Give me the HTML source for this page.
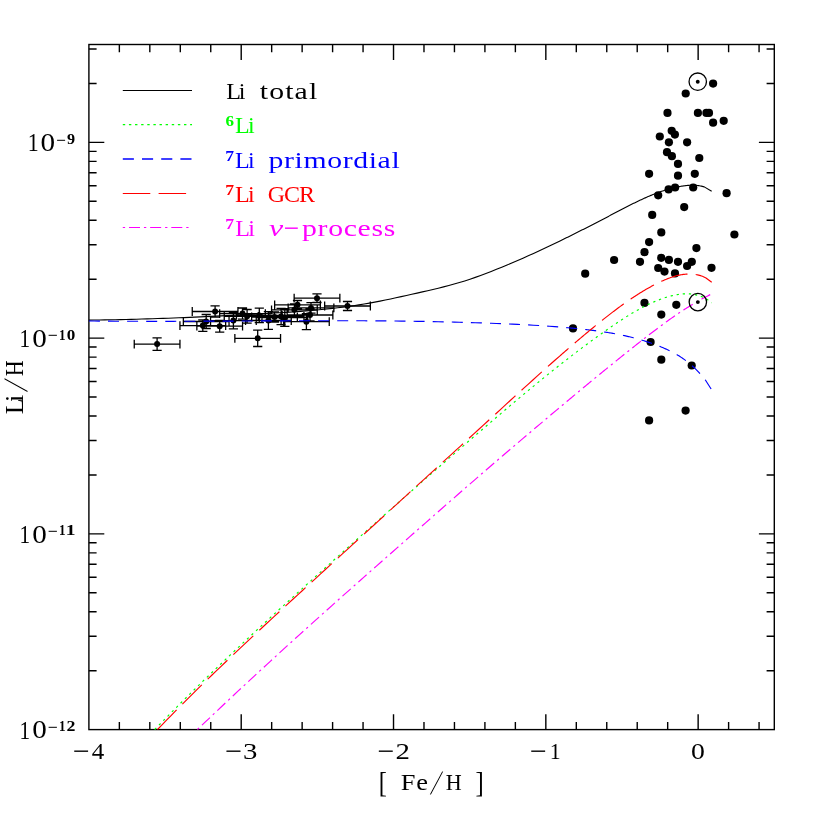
<!DOCTYPE html>
<html><head><meta charset="utf-8"><title>Li/H vs [Fe/H]</title>
<style>
html,body{margin:0;padding:0;background:#fff;}
svg{display:block;will-change:transform;}
text{font-family:"Liberation Serif",serif;}
</style></head>
<body>
<svg width="817" height="817" viewBox="0 0 817 817">
<rect width="817" height="817" fill="#fff"/>
<g stroke="#000" stroke-width="1.4" fill="none" stroke-linecap="butt">
<rect x="88.9" y="44.5" width="685.4" height="685.1"/>
<path d="M119.36 729.6v-7.7M119.36 44.5v7.7M149.82 729.6v-7.7M149.82 44.5v7.7M180.29 729.6v-7.7M180.29 44.5v7.7M210.75 729.6v-7.7M210.75 44.5v7.7M241.21 729.6v-15.4M241.21 44.5v15.4M271.67 729.6v-7.7M271.67 44.5v7.7M302.14 729.6v-7.7M302.14 44.5v7.7M332.6 729.6v-7.7M332.6 44.5v7.7M363.06 729.6v-7.7M363.06 44.5v7.7M393.52 729.6v-15.4M393.52 44.5v15.4M423.98 729.6v-7.7M423.98 44.5v7.7M454.45 729.6v-7.7M454.45 44.5v7.7M484.91 729.6v-7.7M484.91 44.5v7.7M515.37 729.6v-7.7M515.37 44.5v7.7M545.83 729.6v-15.4M545.83 44.5v15.4M576.3 729.6v-7.7M576.3 44.5v7.7M606.76 729.6v-7.7M606.76 44.5v7.7M637.22 729.6v-7.7M637.22 44.5v7.7M667.68 729.6v-7.7M667.68 44.5v7.7M698.14 729.6v-15.4M698.14 44.5v15.4M728.61 729.6v-7.7M728.61 44.5v7.7M759.07 729.6v-7.7M759.07 44.5v7.7M88.9 670.68h7.7M774.3 670.68h-7.7M88.9 636.21h7.7M774.3 636.21h-7.7M88.9 611.75h7.7M774.3 611.75h-7.7M88.9 592.78h7.7M774.3 592.78h-7.7M88.9 577.28h7.7M774.3 577.28h-7.7M88.9 564.18h7.7M774.3 564.18h-7.7M88.9 552.83h7.7M774.3 552.83h-7.7M88.9 542.81h7.7M774.3 542.81h-7.7M88.9 533.86h15.4M774.3 533.86h-15.4M88.9 474.93h7.7M774.3 474.93h-7.7M88.9 440.46h7.7M774.3 440.46h-7.7M88.9 416.01h7.7M774.3 416.01h-7.7M88.9 397.04h7.7M774.3 397.04h-7.7M88.9 381.54h7.7M774.3 381.54h-7.7M88.9 368.44h7.7M774.3 368.44h-7.7M88.9 357.08h7.7M774.3 357.08h-7.7M88.9 347.07h7.7M774.3 347.07h-7.7M88.9 338.11h15.4M774.3 338.11h-15.4M88.9 279.19h7.7M774.3 279.19h-7.7M88.9 244.72h7.7M774.3 244.72h-7.7M88.9 220.27h7.7M774.3 220.27h-7.7M88.9 201.3h7.7M774.3 201.3h-7.7M88.9 185.8h7.7M774.3 185.8h-7.7M88.9 172.69h7.7M774.3 172.69h-7.7M88.9 161.34h7.7M774.3 161.34h-7.7M88.9 151.33h7.7M774.3 151.33h-7.7M88.9 142.37h15.4M774.3 142.37h-15.4M88.9 83.45h7.7M774.3 83.45h-7.7M88.9 48.98h7.7M774.3 48.98h-7.7"/>
</g>
<path d="M134.25 344.1h45.7M134.25 339.7v8.8M179.95 339.7v8.8M157.1 337.8v12.6M152.5 337.8h9.2M152.5 350.4h9.2M192.25 311.5h45.7M192.25 307.1v8.8M237.95 307.1v8.8M215.1 305.8v11.4M210.5 305.8h9.2M210.5 317.2h9.2M183.35 321.5h45.7M183.35 317.1v8.8M229.05 317.1v8.8M206.2 314.5v14M201.6 314.5h9.2M201.6 328.5h9.2M179.95 325.6h45.7M179.95 321.2v8.8M225.65 321.2v8.8M202.8 319.8v11.6M198.2 319.8h9.2M198.2 331.4h9.2M196.85 326.2h45.7M196.85 321.8v8.8M242.55 321.8v8.8M219.7 320.3v11.8M215.1 320.3h9.2M215.1 332.1h9.2M210.55 320.6h45.7M210.55 316.2v8.8M256.25 316.2v8.8M233.4 312.3v16.6M228.8 312.3h9.2M228.8 328.9h9.2M219.65 313.6h45.7M219.65 309.2v8.8M265.35 309.2v8.8M242.5 308v11.2M237.9 308h9.2M237.9 319.2h9.2M224.25 316.3h45.7M224.25 311.9v8.8M269.95 311.9v8.8M247.1 309.5v13.6M242.5 309.5h9.2M242.5 323.1h9.2M236.45 315.4h45.7M236.45 311v8.8M282.15 311v8.8M259.3 308.2v14.4M254.7 308.2h9.2M254.7 322.6h9.2M234.85 338.3h45.7M234.85 333.9v8.8M280.55 333.9v8.8M257.7 330.1v16.4M253.1 330.1h9.2M253.1 346.5h9.2M245.55 320.5h45.7M245.55 316.1v8.8M291.25 316.1v8.8M268.4 311.6v17.8M263.8 311.6h9.2M263.8 329.4h9.2M251.65 317h45.7M251.65 312.6v8.8M297.35 312.6v8.8M274.5 312v10M269.9 312h9.2M269.9 322h9.2M258.25 316.5h45.7M258.25 312.1v8.8M303.95 312.1v8.8M281.1 308.3v16.4M276.5 308.3h9.2M276.5 324.7h9.2M261.95 317.5h45.7M261.95 313.1v8.8M307.65 313.1v8.8M284.8 308.6v17.8M280.2 308.6h9.2M280.2 326.4h9.2M271.55 309.8h45.7M271.55 305.4v8.8M317.25 305.4v8.8M294.4 303.8v12M289.8 303.8h9.2M289.8 315.8h9.2M274.65 304.8h45.7M274.65 300.4v8.8M320.35 300.4v8.8M297.5 300.5v8.6M292.9 300.5h9.2M292.9 309.1h9.2M294.15 298.2h45.7M294.15 293.8v8.8M339.85 293.8v8.8M317 293.9v8.6M312.4 293.9h9.2M312.4 302.5h9.2M288.15 307.9h45.7M288.15 303.5v8.8M333.85 303.5v8.8M311 302.6v10.6M306.4 302.6h9.2M306.4 313.2h9.2M287.15 315h45.7M287.15 310.6v8.8M332.85 310.6v8.8M310 309v12M305.4 309h9.2M305.4 321h9.2M283.55 321.7h45.7M283.55 317.3v8.8M329.25 317.3v8.8M306.4 313.7v16M301.8 313.7h9.2M301.8 329.7h9.2M324.65 306h45.7M324.65 301.6v8.8M370.35 301.6v8.8M347.5 301.5v9M342.9 301.5h9.2M342.9 310.5h9.2" stroke="#000" stroke-width="1.3" fill="none"/>
<g fill="#000">
<circle cx="157.1" cy="344.1" r="3"/>
<circle cx="215.1" cy="311.5" r="3"/>
<circle cx="206.2" cy="321.5" r="3"/>
<circle cx="202.8" cy="325.6" r="3"/>
<circle cx="219.7" cy="326.2" r="3"/>
<circle cx="233.4" cy="320.6" r="3"/>
<circle cx="242.5" cy="313.6" r="3"/>
<circle cx="247.1" cy="316.3" r="3"/>
<circle cx="259.3" cy="315.4" r="3"/>
<circle cx="257.7" cy="338.3" r="3"/>
<circle cx="268.4" cy="320.5" r="3"/>
<circle cx="274.5" cy="317" r="3"/>
<circle cx="281.1" cy="316.5" r="3"/>
<circle cx="284.8" cy="317.5" r="3"/>
<circle cx="294.4" cy="309.8" r="3"/>
<circle cx="297.5" cy="304.8" r="3"/>
<circle cx="317" cy="298.2" r="3"/>
<circle cx="311" cy="307.9" r="3"/>
<circle cx="310" cy="315" r="3"/>
<circle cx="306.4" cy="321.7" r="3"/>
<circle cx="347.5" cy="306" r="3"/>
</g>
<g fill="#000">
<circle cx="713.1" cy="83.6" r="4.1"/>
<circle cx="685.7" cy="93.5" r="4.1"/>
<circle cx="667.5" cy="112.9" r="4.1"/>
<circle cx="697.9" cy="112.9" r="4.1"/>
<circle cx="706.4" cy="112.9" r="4.1"/>
<circle cx="709" cy="112.9" r="4.1"/>
<circle cx="713.1" cy="122.7" r="4.1"/>
<circle cx="723.7" cy="120.8" r="4.1"/>
<circle cx="671.7" cy="130.8" r="4.1"/>
<circle cx="674.9" cy="134.6" r="4.1"/>
<circle cx="659.8" cy="136.5" r="4.1"/>
<circle cx="668.9" cy="142.3" r="4.1"/>
<circle cx="687.1" cy="142.3" r="4.1"/>
<circle cx="667" cy="152.2" r="4.1"/>
<circle cx="671.9" cy="156.2" r="4.1"/>
<circle cx="699.3" cy="158" r="4.1"/>
<circle cx="678" cy="163.9" r="4.1"/>
<circle cx="649.1" cy="173.8" r="4.1"/>
<circle cx="678" cy="175.7" r="4.1"/>
<circle cx="694.8" cy="173.8" r="4.1"/>
<circle cx="658.2" cy="195.3" r="4.1"/>
<circle cx="668.6" cy="189.4" r="4.1"/>
<circle cx="675.1" cy="187.5" r="4.1"/>
<circle cx="693.2" cy="187.5" r="4.1"/>
<circle cx="726.6" cy="193.2" r="4.1"/>
<circle cx="684.2" cy="207.1" r="4.1"/>
<circle cx="652.2" cy="214.9" r="4.1"/>
<circle cx="661.3" cy="232.4" r="4.1"/>
<circle cx="734.4" cy="234.5" r="4.1"/>
<circle cx="649.1" cy="242.1" r="4.1"/>
<circle cx="696.4" cy="248.1" r="4.1"/>
<circle cx="644.5" cy="252.2" r="4.1"/>
<circle cx="640" cy="261.8" r="4.1"/>
<circle cx="661.2" cy="257.8" r="4.1"/>
<circle cx="668.9" cy="259.9" r="4.1"/>
<circle cx="678" cy="261.8" r="4.1"/>
<circle cx="691.8" cy="261.8" r="4.1"/>
<circle cx="687.1" cy="266" r="4.1"/>
<circle cx="658.2" cy="268" r="4.1"/>
<circle cx="664.5" cy="271.6" r="4.1"/>
<circle cx="675" cy="273.4" r="4.1"/>
<circle cx="711.5" cy="267.8" r="4.1"/>
<circle cx="585.2" cy="273.7" r="4.1"/>
<circle cx="614.1" cy="260" r="4.1"/>
<circle cx="644.5" cy="302.9" r="4.1"/>
<circle cx="676.3" cy="304.8" r="4.1"/>
<circle cx="661.3" cy="314.6" r="4.1"/>
<circle cx="573" cy="328.4" r="4.1"/>
<circle cx="650.6" cy="342" r="4.1"/>
<circle cx="661.3" cy="359.7" r="4.1"/>
<circle cx="691.7" cy="365.5" r="4.1"/>
<circle cx="685.6" cy="410.6" r="4.1"/>
<circle cx="649.1" cy="420.4" r="4.1"/>
</g>
<g fill="none" stroke-width="1.15" stroke-linejoin="round">
<path d="M88.9 320.09L94.19 320.04L99.49 319.97L104.78 319.9L110.07 319.81L115.37 319.71L120.66 319.6L125.95 319.48L131.25 319.35L136.54 319.21L141.83 319.06L147.13 318.9L152.42 318.74L157.71 318.56L163.01 318.38L168.3 318.19L173.59 317.99L178.89 317.78L184.18 317.57L189.47 317.35L194.77 317.12L200.06 316.88L205.35 316.64L210.64 316.4L215.94 316.14L221.23 315.89L226.52 315.62L231.82 315.36L237.11 315.08L242.4 314.81L247.7 314.53L252.99 314.24L258.28 313.95L263.58 313.66L268.87 313.36L274.16 313.06L279.46 312.74L284.75 312.41L290.04 312.07L295.34 311.7L300.63 311.32L305.92 310.91L311.22 310.48L316.51 310.01L321.8 309.51L327.1 308.98L332.39 308.41L337.68 307.8L342.98 307.15L348.27 306.45L353.56 305.7L358.86 304.9L364.15 304.05L369.44 303.14L374.74 302.17L380.03 301.14L385.32 300.07L390.62 298.96L395.91 297.82L401.2 296.66L406.5 295.48L411.79 294.3L417.08 293.11L422.38 291.91L427.67 290.69L432.96 289.45L438.26 288.18L443.55 286.87L448.84 285.49L454.13 284.06L459.43 282.54L464.72 280.93L470.01 279.21L475.31 277.39L480.6 275.47L485.89 273.47L491.19 271.42L496.48 269.31L501.77 267.16L507.07 264.97L512.36 262.74L517.65 260.46L522.95 258.14L528.24 255.79L533.53 253.39L538.83 250.97L544.12 248.5L549.41 246.01L554.71 243.48L560 240.93L560.97 240.45L561.94 239.98L562.9 239.51L563.87 239.04L564.84 238.56L565.81 238.09L566.78 237.61L567.74 237.13L568.71 236.65L569.68 236.18L570.65 235.7L571.62 235.22L572.59 234.73L573.55 234.25L574.52 233.77L575.49 233.28L576.46 232.8L577.43 232.31L578.39 231.83L579.36 231.34L580.33 230.85L581.3 230.36L582.27 229.87L583.23 229.38L584.2 228.89L585.17 228.4L586.14 227.91L587.11 227.41L588.08 226.92L589.04 226.42L590.01 225.93L590.98 225.43L591.95 224.93L592.92 224.44L593.88 223.94L594.85 223.44L595.82 222.94L596.79 222.44L597.76 221.94L598.72 221.44L599.69 220.94L600.66 220.43L601.63 219.93L602.6 219.43L603.57 218.92L604.53 218.42L605.5 217.91L606.47 217.4L607.44 216.9L608.41 216.39L609.37 215.88L610.34 215.37L611.31 214.87L612.28 214.36L613.25 213.85L614.21 213.34L615.18 212.83L616.15 212.32L617.12 211.81L618.09 211.3L619.06 210.8L620.02 210.29L620.99 209.78L621.96 209.28L622.93 208.78L623.9 208.27L624.86 207.77L625.83 207.28L626.8 206.78L627.77 206.28L628.74 205.79L629.7 205.3L630.67 204.81L631.64 204.33L632.61 203.84L633.58 203.36L634.55 202.89L635.51 202.41L636.48 201.94L637.45 201.47L638.42 201.01L639.39 200.55L640.35 200.09L641.32 199.64L642.29 199.19L643.26 198.75L644.23 198.31L645.19 197.87L646.16 197.44L647.13 197.02L648.1 196.6L649.07 196.18L650.04 195.77L651 195.37L651.97 194.97L652.94 194.57L653.91 194.18L654.88 193.8L655.84 193.43L656.81 193.06L657.78 192.69L658.75 192.34L659.72 191.99L660.68 191.64L661.65 191.31L662.62 190.98L663.59 190.66L664.56 190.34L665.53 190.03L666.49 189.73L667.46 189.44L668.43 189.16L669.4 188.88L670.37 188.62L671.33 188.36L672.3 188.11L673.27 187.86L674.24 187.63L675.21 187.41L676.17 187.19L677.14 186.99L678.11 186.79L679.08 186.6L680.05 186.43L681.02 186.26L681.98 186.1L682.95 185.95L683.92 185.82L684.89 185.69L685.86 185.58L686.82 185.48L687.79 185.4L688.76 185.33L689.73 185.28L690.7 185.24L691.66 185.22L692.63 185.22L693.6 185.24L694.57 185.28L695.54 185.33L696.51 185.41L697.47 185.51L698.44 185.63L699.41 185.78L700.38 185.94L701.35 186.14L702.31 186.36L703.28 186.6L704.25 186.87L711.65 191.2" stroke="#000" stroke-width="1.12"/>
<path d="M154.7 729.54L159.25 724.84L163.81 720.17L168.36 715.53L172.92 710.92L177.47 706.33L182.02 701.77L186.58 697.24L191.13 692.74L195.69 688.26L200.24 683.8L204.79 679.37L209.35 674.95L213.9 670.56L218.46 666.2L223.01 661.85L227.56 657.52L232.12 653.21L236.67 648.91L241.22 644.64L245.78 640.38L250.33 636.13L254.89 631.9L259.44 627.68L263.99 623.48L268.55 619.29L273.1 615.11L277.66 610.94L282.21 606.78L286.76 602.63L291.32 598.49L295.87 594.36L300.43 590.23L304.98 586.11L309.53 582L314.09 577.89L318.64 573.78L323.2 569.68L327.75 565.58L332.3 561.49L336.86 557.4L341.41 553.31L345.97 549.24L350.52 545.16L355.07 541.09L359.63 537.03L364.18 532.96L368.73 528.91L373.29 524.86L377.84 520.81L382.4 516.77L386.95 512.73L391.5 508.7L396.06 504.68L400.61 500.66L405.17 496.64L409.72 492.63L414.27 488.62L418.83 484.62L423.38 480.63L427.94 476.64L432.49 472.66L437.04 468.68L441.6 464.7L446.15 460.74L450.71 456.77L455.26 452.82L459.81 448.87L464.37 444.92L468.92 440.98L473.48 437.05L478.03 433.12L482.58 429.2L487.14 425.29L491.69 421.38L496.24 417.49L500.8 413.61L505.35 409.74L509.91 405.88L514.46 402.04L519.01 398.22L523.57 394.42L528.12 390.64L532.68 386.88L537.23 383.14L541.78 379.42L546.34 375.74L550.89 372.07L555.45 368.44L560 364.84L560.99 364.06L561.97 363.29L562.96 362.52L563.94 361.75L564.93 360.98L565.91 360.21L566.9 359.44L567.88 358.68L568.87 357.92L569.85 357.15L570.84 356.39L571.82 355.64L572.81 354.88L573.79 354.12L574.78 353.37L575.76 352.62L576.75 351.87L577.73 351.12L578.72 350.37L579.7 349.63L580.69 348.89L581.68 348.14L582.66 347.4L583.65 346.67L584.63 345.93L585.62 345.2L586.6 344.46L587.59 343.73L588.57 343L589.56 342.28L590.54 341.55L591.53 340.83L592.51 340.11L593.5 339.39L594.48 338.67L595.47 337.96L596.45 337.24L597.44 336.53L598.42 335.82L599.41 335.11L600.39 334.41L601.38 333.71L602.37 333L603.35 332.3L604.34 331.61L605.32 330.91L606.31 330.22L607.29 329.53L608.28 328.84L609.26 328.15L610.25 327.47L611.23 326.79L612.22 326.11L613.2 325.44L614.19 324.76L615.17 324.1L616.16 323.43L617.14 322.77L618.13 322.11L619.11 321.46L620.1 320.81L621.08 320.16L622.07 319.52L623.06 318.88L624.04 318.25L625.03 317.62L626.01 316.99L627 316.38L627.98 315.76L628.97 315.15L629.95 314.55L630.94 313.95L631.92 313.36L632.91 312.77L633.89 312.19L634.88 311.62L635.86 311.05L636.85 310.49L637.83 309.93L638.82 309.39L639.8 308.84L640.79 308.31L641.77 307.78L642.76 307.26L643.74 306.74L644.73 306.24L645.72 305.74L646.7 305.25L647.69 304.76L648.67 304.29L649.66 303.82L650.64 303.36L651.63 302.91L652.61 302.47L653.6 302.04L654.58 301.61L655.57 301.2L656.55 300.79L657.54 300.39L658.52 300.01L659.51 299.63L660.49 299.26L661.48 298.9L662.46 298.55L663.45 298.21L664.43 297.88L665.42 297.57L666.41 297.26L667.39 296.96L668.38 296.67L669.36 296.4L670.35 296.13L671.33 295.88L672.32 295.64L673.3 295.41L674.29 295.19L675.27 294.99L676.26 294.8L677.24 294.62L678.23 294.46L679.21 294.32L680.2 294.19L681.18 294.07L682.17 293.98L683.15 293.9L684.14 293.85L685.12 293.81L686.11 293.79L687.1 293.79L688.08 293.82L689.07 293.86L690.05 293.93L691.04 294.02L692.02 294.14L693.01 294.27L693.99 294.44L694.98 294.63L695.96 294.84L696.95 295.09L697.93 295.36L698.92 295.66L699.9 295.98L700.89 296.34L701.87 296.72L702.86 297.14L703.84 297.59L704.83 298.07L705.81 298.58L706.8 299.13L711.6 302.9" stroke="#0f0" stroke-dasharray="2.3 3.85"/>
<path d="M88.9 320.98L94.19 321.04L99.49 321.09L104.78 321.13L110.07 321.17L115.37 321.2L120.66 321.23L125.95 321.26L131.25 321.28L136.54 321.29L141.83 321.3L147.13 321.31L152.42 321.31L157.71 321.31L163.01 321.31L168.3 321.3L173.59 321.3L178.89 321.28L184.18 321.27L189.47 321.25L194.77 321.23L200.06 321.21L205.35 321.19L210.64 321.17L215.94 321.14L221.23 321.12L226.52 321.09L231.82 321.07L237.11 321.04L242.4 321.01L247.7 320.98L252.99 320.95L258.28 320.93L263.58 320.9L268.87 320.88L274.16 320.85L279.46 320.83L284.75 320.81L290.04 320.78L295.34 320.77L300.63 320.75L305.92 320.74L311.22 320.72L316.51 320.71L321.8 320.71L327.1 320.71L332.39 320.71L337.68 320.71L342.98 320.72L348.27 320.73L353.56 320.74L358.86 320.76L364.15 320.79L369.44 320.82L374.74 320.85L380.03 320.89L385.32 320.93L390.62 320.98L395.91 321.04L401.2 321.1L406.5 321.17L411.79 321.24L417.08 321.32L422.38 321.41L427.67 321.5L432.96 321.6L438.26 321.71L443.55 321.83L448.84 321.95L454.13 322.09L459.43 322.23L464.72 322.37L470.01 322.53L475.31 322.7L480.6 322.87L485.89 323.06L491.19 323.25L496.48 323.46L501.77 323.67L507.07 323.89L512.36 324.13L517.65 324.37L522.95 324.63L528.24 324.91L533.53 325.21L538.83 325.52L544.12 325.86L549.41 326.22L554.71 326.61L560 327.03L560.98 327.11L561.96 327.19L562.93 327.27L563.91 327.36L564.89 327.44L565.87 327.53L566.84 327.62L567.82 327.7L568.8 327.79L569.78 327.88L570.76 327.98L571.73 328.07L572.71 328.16L573.69 328.26L574.67 328.35L575.65 328.45L576.62 328.55L577.6 328.65L578.58 328.75L579.56 328.85L580.53 328.96L581.51 329.06L582.49 329.17L583.47 329.28L584.45 329.39L585.42 329.5L586.4 329.61L587.38 329.72L588.36 329.84L589.34 329.95L590.31 330.07L591.29 330.19L592.27 330.31L593.25 330.44L594.22 330.56L595.2 330.69L596.18 330.82L597.16 330.95L598.14 331.08L599.11 331.22L600.09 331.35L601.07 331.49L602.05 331.63L603.03 331.78L604 331.93L604.98 332.07L605.96 332.23L606.94 332.38L607.91 332.54L608.89 332.7L609.87 332.86L610.85 333.03L611.83 333.19L612.8 333.37L613.78 333.54L614.76 333.72L615.74 333.9L616.72 334.08L617.69 334.27L618.67 334.46L619.65 334.66L620.63 334.85L621.6 335.06L622.58 335.26L623.56 335.47L624.54 335.68L625.52 335.9L626.49 336.12L627.47 336.34L628.45 336.57L629.43 336.8L630.41 337.04L631.38 337.28L632.36 337.53L633.34 337.78L634.32 338.03L635.29 338.29L636.27 338.55L637.25 338.82L638.23 339.09L639.21 339.37L640.18 339.65L641.16 339.93L642.14 340.23L643.12 340.52L644.1 340.82L645.07 341.13L646.05 341.44L647.03 341.76L648.01 342.08L648.98 342.41L649.96 342.74L650.94 343.08L651.92 343.42L652.9 343.77L653.87 344.12L654.85 344.48L655.83 344.85L656.81 345.22L657.79 345.6L658.76 345.98L659.74 346.37L660.72 346.77L661.7 347.17L662.67 347.58L663.65 348L664.63 348.42L665.61 348.86L666.59 349.3L667.56 349.75L668.54 350.21L669.52 350.68L670.5 351.17L671.48 351.66L672.45 352.17L673.43 352.69L674.41 353.22L675.39 353.77L676.36 354.33L677.34 354.91L678.32 355.5L679.3 356.11L680.28 356.73L681.25 357.37L682.23 358.03L683.21 358.71L684.19 359.4L685.17 360.12L686.14 360.85L687.12 361.6L688.1 362.38L689.08 363.17L690.05 363.99L691.03 364.83L692.01 365.7L692.99 366.58L693.97 367.49L694.94 368.43L695.92 369.39L696.9 370.37L697.88 371.38L698.86 372.42L699.83 373.49L700.81 374.58L701.79 375.7L702.77 376.85L703.74 378.03L704.72 379.24L705.7 380.48L711.5 389.55" stroke="#00f" stroke-dasharray="11 8.1"/>
<path d="M157.5 729.5L162.02 724.82L166.54 720.17L171.07 715.55L175.59 710.97L180.11 706.41L184.63 701.88L189.16 697.38L193.68 692.9L198.2 688.45L202.72 684.02L207.25 679.62L211.77 675.24L216.29 670.88L220.81 666.54L225.34 662.22L229.86 657.92L234.38 653.63L238.9 649.36L243.43 645.11L247.95 640.87L252.47 636.64L256.99 632.43L261.52 628.22L266.04 624.03L270.56 619.85L275.08 615.67L279.61 611.5L284.13 607.34L288.65 603.18L293.17 599.03L297.7 594.88L302.22 590.73L306.74 586.59L311.26 582.44L315.79 578.3L320.31 574.15L324.83 570.01L329.35 565.87L333.88 561.73L338.4 557.59L342.92 553.45L347.44 549.31L351.97 545.17L356.49 541.03L361.01 536.89L365.53 532.76L370.06 528.62L374.58 524.49L379.1 520.35L383.62 516.22L388.15 512.09L392.67 507.95L397.19 503.82L401.71 499.69L406.24 495.56L410.76 491.43L415.28 487.3L419.8 483.18L424.33 479.05L428.85 474.92L433.37 470.8L437.89 466.67L442.42 462.55L446.94 458.42L451.46 454.3L455.98 450.18L460.51 446.05L465.03 441.92L469.55 437.79L474.07 433.66L478.6 429.53L483.12 425.39L487.64 421.25L492.16 417.1L496.69 412.96L501.21 408.82L505.73 404.68L510.25 400.54L514.78 396.41L519.3 392.29L523.82 388.18L528.34 384.07L532.87 379.98L537.39 375.9L541.91 371.84L546.43 367.8L550.96 363.78L555.48 359.78L560 355.81L560.96 354.97L561.92 354.12L562.89 353.28L563.85 352.45L564.81 351.61L565.77 350.77L566.74 349.94L567.7 349.11L568.66 348.27L569.62 347.44L570.59 346.61L571.55 345.79L572.51 344.96L573.47 344.14L574.44 343.31L575.4 342.49L576.36 341.67L577.32 340.85L578.29 340.03L579.25 339.22L580.21 338.41L581.17 337.59L582.14 336.78L583.1 335.97L584.06 335.17L585.02 334.36L585.99 333.56L586.95 332.75L587.91 331.95L588.87 331.16L589.83 330.36L590.8 329.56L591.76 328.77L592.72 327.98L593.68 327.19L594.65 326.4L595.61 325.62L596.57 324.83L597.53 324.05L598.5 323.27L599.46 322.5L600.42 321.72L601.38 320.95L602.35 320.18L603.31 319.41L604.27 318.65L605.23 317.89L606.2 317.13L607.16 316.37L608.12 315.62L609.08 314.87L610.05 314.13L611.01 313.38L611.97 312.64L612.93 311.91L613.9 311.18L614.86 310.45L615.82 309.72L616.78 309L617.74 308.28L618.71 307.57L619.67 306.86L620.63 306.16L621.59 305.46L622.56 304.76L623.52 304.07L624.48 303.38L625.44 302.7L626.41 302.02L627.37 301.35L628.33 300.68L629.29 300.02L630.26 299.36L631.22 298.71L632.18 298.06L633.14 297.42L634.11 296.78L635.07 296.15L636.03 295.53L636.99 294.91L637.96 294.29L638.92 293.69L639.88 293.08L640.84 292.49L641.81 291.9L642.77 291.31L643.73 290.74L644.69 290.17L645.66 289.6L646.62 289.04L647.58 288.49L648.54 287.95L649.5 287.41L650.47 286.88L651.43 286.36L652.39 285.84L653.35 285.33L654.32 284.83L655.28 284.34L656.24 283.85L657.2 283.37L658.17 282.9L659.13 282.43L660.09 281.98L661.05 281.53L662.02 281.09L662.98 280.66L663.94 280.24L664.9 279.82L665.87 279.42L666.83 279.03L667.79 278.65L668.75 278.28L669.72 277.92L670.68 277.58L671.64 277.24L672.6 276.93L673.57 276.62L674.53 276.33L675.49 276.06L676.45 275.8L677.41 275.55L678.38 275.32L679.34 275.11L680.3 274.92L681.26 274.74L682.23 274.58L683.19 274.44L684.15 274.32L685.11 274.22L686.08 274.14L687.04 274.08L688 274.04L688.96 274.03L689.93 274.03L690.89 274.06L691.85 274.11L692.81 274.18L693.78 274.28L694.74 274.4L695.7 274.55L696.66 274.72L697.63 274.92L698.59 275.14L699.55 275.4L700.51 275.67L701.48 275.98L702.44 276.31L703.4 276.68L706 278L711.7 282.2" stroke="#f00" stroke-dasharray="27.3 8.25"/>
<path d="M197.5 729.48L201.57 725.58L205.65 721.69L209.72 717.82L213.79 713.95L217.87 710.09L221.94 706.24L226.01 702.41L230.08 698.58L234.16 694.76L238.23 690.95L242.3 687.16L246.38 683.37L250.45 679.59L254.52 675.81L258.6 672.05L262.67 668.29L266.74 664.55L270.81 660.81L274.89 657.08L278.96 653.36L283.03 649.64L287.11 645.93L291.18 642.23L295.25 638.54L299.33 634.85L303.4 631.17L307.47 627.49L311.54 623.83L315.62 620.16L319.69 616.51L323.76 612.86L327.84 609.21L331.91 605.57L335.98 601.94L340.06 598.31L344.13 594.69L348.2 591.07L352.28 587.45L356.35 583.84L360.42 580.23L364.49 576.63L368.57 573.02L372.64 569.43L376.71 565.83L380.79 562.24L384.86 558.65L388.93 555.06L393.01 551.47L397.08 547.89L401.15 544.3L405.22 540.72L409.3 537.14L413.37 533.55L417.44 529.97L421.52 526.39L425.59 522.81L429.66 519.23L433.74 515.66L437.81 512.08L441.88 508.51L445.96 504.94L450.03 501.37L454.1 497.81L458.17 494.25L462.25 490.7L466.32 487.15L470.39 483.61L474.47 480.07L478.54 476.54L482.61 473.02L486.69 469.5L490.76 465.99L494.83 462.49L498.9 459L502.98 455.51L507.05 452.02L511.12 448.55L515.2 445.08L519.27 441.61L523.34 438.15L527.42 434.7L531.49 431.25L535.56 427.8L539.63 424.36L543.71 420.92L547.78 417.49L551.85 414.06L555.93 410.64L560 407.22L561.01 406.38L562.02 405.53L563.02 404.69L564.03 403.84L565.04 403L566.05 402.15L567.06 401.31L568.06 400.47L569.07 399.63L570.08 398.78L571.09 397.94L572.1 397.1L573.1 396.26L574.11 395.42L575.12 394.58L576.13 393.74L577.14 392.9L578.14 392.06L579.15 391.23L580.16 390.39L581.17 389.55L582.18 388.72L583.19 387.88L584.19 387.05L585.2 386.21L586.21 385.38L587.22 384.54L588.23 383.71L589.23 382.88L590.24 382.05L591.25 381.22L592.26 380.39L593.27 379.56L594.27 378.73L595.28 377.9L596.29 377.07L597.3 376.25L598.31 375.42L599.31 374.6L600.32 373.77L601.33 372.95L602.34 372.12L603.35 371.3L604.35 370.48L605.36 369.66L606.37 368.84L607.38 368.02L608.39 367.2L609.39 366.38L610.4 365.56L611.41 364.74L612.42 363.93L613.43 363.11L614.43 362.3L615.44 361.48L616.45 360.67L617.46 359.86L618.47 359.04L619.48 358.23L620.48 357.42L621.49 356.61L622.5 355.8L623.51 354.99L624.52 354.18L625.52 353.38L626.53 352.57L627.54 351.77L628.55 350.96L629.56 350.16L630.56 349.35L631.57 348.55L632.58 347.75L633.59 346.95L634.6 346.15L635.6 345.35L636.61 344.55L637.62 343.75L638.63 342.95L639.64 342.16L640.64 341.37L641.65 340.57L642.66 339.78L643.67 339L644.68 338.21L645.68 337.42L646.69 336.64L647.7 335.86L648.71 335.08L649.72 334.3L650.72 333.53L651.73 332.75L652.74 331.98L653.75 331.21L654.76 330.45L655.77 329.69L656.77 328.93L657.78 328.17L658.79 327.41L659.8 326.66L660.81 325.91L661.81 325.17L662.82 324.42L663.83 323.69L664.84 322.95L665.85 322.22L666.85 321.49L667.86 320.76L668.87 320.04L669.88 319.32L670.89 318.61L671.89 317.9L672.9 317.19L673.91 316.49L674.92 315.79L675.93 315.1L676.93 314.41L677.94 313.73L678.95 313.05L679.96 312.37L680.97 311.7L681.97 311.03L682.98 310.37L683.99 309.71L685 309.06L686.01 308.42L687.01 307.77L688.02 307.14L689.03 306.51L690.04 305.88L691.05 305.26L692.06 304.65L693.06 304.04L694.07 303.44L695.08 302.84L696.09 302.25L697.1 301.66L698.1 301.08L699.11 300.51L700.12 299.94L701.13 299.38L702.14 298.83L703.14 298.28L704.15 297.74L705.16 297.21L706.17 296.68L707.18 296.16L708.18 295.64L709.19 295.14L710.2 294.64" stroke="#f0f" stroke-dasharray="2.2 4 11 4"/>
</g>
<circle cx="697.75" cy="81.7" r="8.7" fill="none" stroke="#000" stroke-width="1.3"/>
<circle cx="697.75" cy="81.7" r="1.95" fill="#000"/>
<circle cx="697.85" cy="302.1" r="8.7" fill="none" stroke="#000" stroke-width="1.3"/>
<circle cx="697.85" cy="302.1" r="1.95" fill="#000"/>
<g fill="none">
<path d="M122.8 90.5H192.0" stroke="#000" stroke-width="1.05"/>
<path d="M122.8 124.7H192.0" stroke="#0f0" stroke-width="1.25" stroke-dasharray="2.4 3.72"/>
<path d="M122.8 159H192.0" stroke="#00f" stroke-width="1.3" stroke-dasharray="11.1 8.1"/>
<path d="M122.8 193.45H186.5" stroke="#f00" stroke-width="1.1" stroke-dasharray="27.5 8.3"/>
<path d="M122.8 227.5H189" stroke="#f0f" stroke-width="1.1" stroke-dasharray="2.3 3.9 11 3.95"/>
</g>
<text id="l0a" transform="translate(226.25 99.00) scale(1.0000 1)" font-size="24.00" fill="#000" textLength="19.20" lengthAdjust="spacing">Li</text>
<text id="l0b" transform="translate(259.75 99.00) scale(1.2400 1)" font-size="24.00" fill="#000" textLength="46.37" lengthAdjust="spacing">total</text>
<text id="s0" transform="translate(225.60 126.23) scale(1.1540 1)" font-size="14.80" fill="#0f0" font-weight="bold">6</text>
<text id="L0" transform="translate(235.10 133.40) scale(1.0000 1)" font-size="24.00" fill="#0f0" textLength="19.70" lengthAdjust="spacing">Li</text>
<text id="s1" transform="translate(225.35 160.70) scale(1.1980 1)" font-size="14.80" fill="#00f" font-weight="bold">7</text>
<text id="L1" transform="translate(235.10 167.75) scale(1.0000 1)" font-size="24.00" fill="#00f" textLength="19.70" lengthAdjust="spacing">Li</text>
<text id="s2" transform="translate(225.35 195.05) scale(1.1980 1)" font-size="14.80" fill="#f00" font-weight="bold">7</text>
<text id="L2" transform="translate(235.10 202.10) scale(1.0000 1)" font-size="24.00" fill="#f00" textLength="19.70" lengthAdjust="spacing">Li</text>
<text id="s3" transform="translate(225.20 229.35) scale(1.2031 1)" font-size="14.80" fill="#f0f" font-weight="bold">7</text>
<text id="L3" transform="translate(235.20 236.45) scale(1.0000 1)" font-size="24.00" fill="#f0f" textLength="19.65" lengthAdjust="spacing">Li</text>
<text id="prim" transform="translate(268.50 167.75) scale(1.2400 1)" font-size="24.00" fill="#00f" textLength="105.81" lengthAdjust="spacing">primordial</text>
<text id="gcr" transform="translate(267.85 202.10) scale(1.0000 1)" font-size="24.00" fill="#f00" textLength="47.20" lengthAdjust="spacing">GCR</text>
<text id="nu" transform="translate(268.95 236.45) scale(1.3257 1)" font-size="24.00" fill="#f0f" font-style="italic">&#957;</text>
<text id="mn" transform="translate(284.05 236.45) scale(1.1032 1)" font-size="24.00" fill="#f0f" stroke="#f0f" stroke-width="0.35">&#8722;</text>
<text id="proc" transform="translate(302.00 236.45) scale(1.2400 1)" font-size="24.00" fill="#f0f" textLength="75.28" lengthAdjust="spacing">process</text>
<text id="xm4" transform="translate(73.20 759.00) scale(1.1929 1)" font-size="24.00" fill="#000" stroke="#000" stroke-width="0.35">&#8722;</text>
<text id="xd4" transform="translate(91.70 758.60) scale(1.0428 1)" font-size="24.00" fill="#000">4</text>
<text id="xm3" transform="translate(225.46 759.00) scale(1.1982 1)" font-size="24.00" fill="#000" stroke="#000" stroke-width="0.35">&#8722;</text>
<text id="xd3" transform="translate(242.96 758.60) scale(1.1975 1)" font-size="24.00" fill="#000">3</text>
<text id="xm2" transform="translate(377.72 759.00) scale(1.1978 1)" font-size="24.00" fill="#000" stroke="#000" stroke-width="0.35">&#8722;</text>
<text id="xd2" transform="translate(395.47 758.60) scale(1.2026 1)" font-size="24.00" fill="#000">2</text>
<text id="xm1" transform="translate(530.23 759.00) scale(1.1974 1)" font-size="24.00" fill="#000" stroke="#000" stroke-width="0.35">&#8722;</text>
<text id="xd1" transform="translate(549.73 758.60) scale(0.9095 1)" font-size="24.00" fill="#000">1</text>
<text id="xd0" transform="translate(690.95 758.60) scale(1.1563 1)" font-size="24.00" fill="#000">0</text>
<text id="ye_9" transform="translate(67.00 143.79) scale(1.0935 1)" font-size="14.80" fill="#000" font-weight="bold">9</text>
<text id="ym_9" transform="translate(56.00 144.54) scale(1.1673 1)" font-size="14.80" fill="#000" font-weight="bold">&#8722;</text>
<text id="y0_9" transform="translate(40.50 150.99) scale(1.1912 1)" font-size="24.50" fill="#000">0</text>
<text id="y1_9" transform="translate(27.75 151.49) scale(0.8573 1)" font-size="25.48" fill="#000">1</text>
<text id="ye1_10" transform="translate(59.00 339.61) scale(0.8779 1)" font-size="14.80" fill="#000" font-weight="bold">1</text>
<text id="ye2_10" transform="translate(66.75 339.61) scale(1.1561 1)" font-size="14.80" fill="#000" font-weight="bold">0</text>
<text id="ym_10" transform="translate(47.50 340.36) scale(1.2050 1)" font-size="14.80" fill="#000" font-weight="bold">&#8722;</text>
<text id="y0_10" transform="translate(32.25 346.81) scale(1.1891 1)" font-size="24.50" fill="#000">0</text>
<text id="y1_10" transform="translate(19.50 347.06) scale(0.8297 1)" font-size="25.48" fill="#000">1</text>
<text id="ye1_11" transform="translate(59.00 535.18) scale(0.8779 1)" font-size="14.80" fill="#000" font-weight="bold">1</text>
<text id="ye2_11" transform="translate(65.75 535.18) scale(1.3169 1)" font-size="14.80" fill="#000" font-weight="bold">1</text>
<text id="ym_11" transform="translate(47.50 536.18) scale(1.2050 1)" font-size="14.80" fill="#000" font-weight="bold">&#8722;</text>
<text id="y0_11" transform="translate(32.25 542.63) scale(1.1891 1)" font-size="24.50" fill="#000">0</text>
<text id="y1_11" transform="translate(19.50 542.88) scale(0.8297 1)" font-size="25.48" fill="#000">1</text>
<text id="ye1_12" transform="translate(59.00 731.00) scale(0.8779 1)" font-size="14.80" fill="#000" font-weight="bold">1</text>
<text id="ye2_12" transform="translate(66.50 731.00) scale(1.2086 1)" font-size="14.80" fill="#000" font-weight="bold">2</text>
<text id="ym_12" transform="translate(47.50 731.75) scale(1.2050 1)" font-size="14.80" fill="#000" font-weight="bold">&#8722;</text>
<text id="y0_12" transform="translate(32.25 738.20) scale(1.1891 1)" font-size="24.50" fill="#000">0</text>
<text id="y1_12" transform="translate(19.50 738.70) scale(0.8297 1)" font-size="25.48" fill="#000">1</text>
<text id="xl1" transform="translate(378.70 791.50) scale(0.8532 1)" font-size="28.50" fill="#000">[</text>
<text id="xl2" transform="translate(400.70 790.10) scale(1.1000 1)" font-size="24.00" fill="#000" textLength="24.82" lengthAdjust="spacing">Fe</text>
<text id="xl2s" transform="translate(428.80 795.12) scale(1.5260 1)" font-size="36.68" fill="#000" stroke="#fff" stroke-width="0.9">/</text>
<text id="xl2h" transform="translate(445.80 790.10) scale(0.9214 1)" font-size="24.00" fill="#000">H</text>
<text id="xl3" transform="translate(475.50 791.50) scale(0.8719 1)" font-size="28.50" fill="#000">]</text>
<text id="yl1" transform="translate(23.15 414.30) rotate(-90) scale(1.0000 1)" font-size="26.00" fill="#000" textLength="19.65" lengthAdjust="spacing">Li</text>
<text id="yl2" transform="translate(27.57 393.25) rotate(-90) scale(1.5988 1)" font-size="36.50" fill="#000" stroke="#fff" stroke-width="0.9">/</text>
<text id="yl3" transform="translate(23.15 376.35) rotate(-90) scale(0.8474 1)" font-size="26.00" fill="#000">H</text>
</svg>
</body></html>
